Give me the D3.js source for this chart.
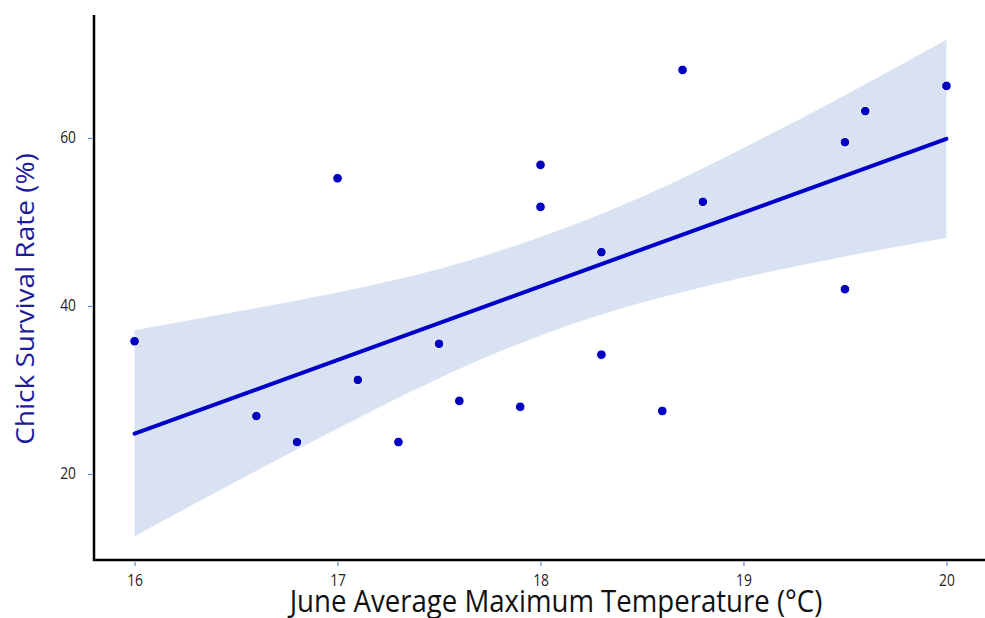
<!DOCTYPE html>
<html>
<head>
<meta charset="utf-8">
<script src="https://cdn.jsdelivr.net/npm/d3@7"></script>
<style>
  body { margin: 0; background: #fff; }
  text { font-family: "Open Sans", "Noto Sans", sans-serif; }
</style>
</head>
<body>
<script>
// observations
var temps = [16.0, 16.6, 16.8, 17.0, 17.1, 17.3, 17.5, 17.6, 17.9, 18.0, 18.0, 18.3, 18.3, 18.6, 18.7, 18.8, 19.5, 19.5, 19.6, 20.0];
var survival = [35.8, 26.9, 23.8, 55.2, 31.2, 23.8, 35.5, 28.7, 28.0, 56.8, 51.8, 46.4, 34.2, 27.5, 68.1, 52.4, 59.5, 42.0, 63.2, 66.2];

// fitted line and confidence band
var fitX = [16, 20];
var fitY = [24.8, 59.9];
var bandX = [16, 16.5, 17, 17.5, 18, 18.5, 19, 19.5, 20];
var bandHi = [37.1, 39.3, 41.6, 44.4, 48.2, 53.0, 58.8, 65.1, 71.7];
var bandLo = [12.6, 19.1, 25.4, 31.4, 36.5, 40.4, 43.4, 45.9, 48.1];

var xTicks = [16, 17, 18, 19, 20];
var yTicks = [20, 40, 60];

var W = 985, H = 618;
var margin = {left: 94, top: 15, right: 0, bottom: 58};
var sx = 0.89; // text in the picture is a bit narrower than tall

var svg = d3.select("body").append("svg").attr("width", W).attr("height", H);

var x = d3.scaleLinear().domain([15.8, 20.2]).range([margin.left, margin.left + 893]);
var y = d3.scaleLinear().domain([9.76, 74.64]).range([H - margin.bottom, margin.top]);

// band
var area = d3.area()
  .x(function(d, i) { return x(bandX[i]); })
  .y0(function(d, i) { return y(bandLo[i]); })
  .y1(function(d, i) { return y(bandHi[i]); })
  .curve(d3.curveNatural);

svg.append("path")
  .attr("d", area(bandX))
  .attr("fill", "#d9e2f3");

// fit line
var line = d3.line()
  .x(function(d, i) { return x(fitX[i]); })
  .y(function(d, i) { return y(fitY[i]); });

svg.append("path")
  .attr("d", line(fitX))
  .attr("fill", "none")
  .attr("stroke", "#0000c8")
  .attr("stroke-width", 4)
  .attr("stroke-linecap", "round");

// points
svg.selectAll("circle.pt").data(temps).enter().append("circle")
  .attr("class", "pt")
  .attr("cx", function(d) { return x(d); })
  .attr("cy", function(d, i) { return y(survival[i]); })
  .attr("r", 4.8)
  .attr("fill", "#0000c0")
  .attr("stroke", "#fff")
  .attr("stroke-width", 1);

// axes
var xAxis = d3.axisBottom(x).tickValues(xTicks).tickSize(4).tickPadding(11).tickFormat(d3.format("d"));
var yAxis = d3.axisLeft(y).tickValues(yTicks).tickSize(4).tickPadding(14).tickFormat(d3.format("d"));

var gx = svg.append("g")
  .attr("transform", "translate(0," + (H - margin.bottom) + ")")
  .call(xAxis);
var gy = svg.append("g")
  .attr("transform", "translate(" + margin.left + ",0)")
  .call(yAxis);

[gx, gy].forEach(function(g) {
  g.select(".domain").remove();
  g.selectAll(".tick line").attr("stroke", "#5b86d0").attr("stroke-width", 1.2);
  g.selectAll(".tick text").attr("fill", "#222").style("font-size", "15.5px")
    .attr("transform", "scale(" + sx + ",1)");
});
gx.selectAll(".tick line").attr("transform", "translate(0,2)");
gy.selectAll(".tick line").attr("transform", "translate(-2,0)");
gy.selectAll(".tick text").attr("x", -18 / sx);

// axis lines
svg.append("path")
  .attr("d", "M" + margin.left + "," + margin.top + "V" + (H - margin.bottom) + "H" + W)
  .attr("fill", "none")
  .attr("stroke", "#000")
  .attr("stroke-width", 2.5);

// titles
svg.append("text")
  .attr("transform", "translate(556,612) scale(" + sx + ",1)")
  .attr("text-anchor", "middle")
  .style("font-size", "31px")
  .attr("fill", "#111")
  .text("June Average Maximum Temperature (°C)");

svg.append("text")
  .attr("transform", "translate(34,299) scale(" + sx + ",1) rotate(-90)")
  .attr("text-anchor", "middle")
  .style("font-size", "28px")
  .attr("fill", "#1c1c9a")
  .text("Chick Survival Rate (%)");
</script>
</body>
</html>
